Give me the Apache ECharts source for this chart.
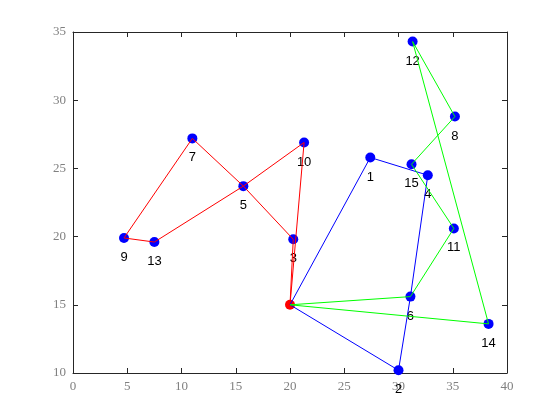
<!DOCTYPE html>
<html>
<head>
<meta charset="utf-8">
<script src="https://cdn.jsdelivr.net/npm/echarts@6/dist/echarts.min.js"></script>
<style>
  html, body { margin: 0; padding: 0; background: #fff; }
  #chart { width: 560px; height: 420px; }
</style>
</head>
<body>
<div id="chart"></div>
<script>
// node 0 is the depot, 1..15 are customers
const nodeX = [20.0, 27.4, 30.0, 20.3, 32.7, 15.7, 31.1, 11.0, 35.2, 4.7, 21.3, 35.1, 31.3, 7.5, 38.3, 31.2];
const nodeY = [15.0, 25.8, 10.2, 19.8, 24.5, 23.7, 15.6, 27.2, 28.8, 19.9, 26.9, 20.6, 34.3, 19.6, 13.6, 25.3];

// routes as node index sequences
const routeRed = [0, 3, 5, 7, 9, 13, 5, 10, 0];
const routeBlue = [0, 1, 4, 6, 2, 0];
const routeGreen = [0, 6, 11, 15, 8, 12, 14, 0];

const xTicks = { min: 0, max: 40, step: 5 };
const yTicks = { min: 10, max: 35, step: 5 };

const toPts = (route) => route.map((i) => [nodeX[i], nodeY[i]]);

const customers = nodeX.slice(1).map((x, k) => ({
  value: [x, nodeY[k + 1]],
  name: String(k + 1),
}));

const chart = echarts.init(document.getElementById("chart"));

const tickLabel = {
  color: "#808080",
  fontFamily: "Liberation Serif",
  fontSize: 13,
  margin: 7,
};

const baseAxis = {
  type: "value",
  axisLine: { show: true, onZero: false, lineStyle: { color: "#262626", width: 1 } },
  axisTick: { show: true, inside: true, length: 5, lineStyle: { color: "#262626" } },
  splitLine: { show: false },
};

const routeLine = (pts, color) => ({
  type: "line",
  data: pts,
  symbol: "none",
  lineStyle: { color: color, width: 1 },
  z: 5,
  animation: false,
});

chart.setOption({
  animation: false,
  backgroundColor: "#fff",
  grid: { left: 73, right: 53, top: 32, bottom: 47 },
  xAxis: [
    {
      ...baseAxis,
      position: "bottom",
      min: xTicks.min,
      max: xTicks.max,
      interval: xTicks.step,
      axisLabel: tickLabel,
    },
    {
      ...baseAxis,
      position: "top",
      min: xTicks.min,
      max: xTicks.max,
      interval: xTicks.step,
      axisLabel: { show: false },
    },
  ],
  yAxis: [
    {
      ...baseAxis,
      position: "left",
      min: yTicks.min,
      max: yTicks.max,
      interval: yTicks.step,
      axisLabel: tickLabel,
    },
    {
      ...baseAxis,
      position: "right",
      min: yTicks.min,
      max: yTicks.max,
      interval: yTicks.step,
      axisLabel: { show: false },
    },
  ],
  series: [
    {
      type: "scatter",
      data: customers,
      symbol: "circle",
      symbolSize: 10,
      itemStyle: { color: "#0000ff", opacity: 1 },
      label: {
        show: true,
        position: "bottom",
        distance: 8,
        formatter: (p) => p.name,
        color: "#000",
        fontFamily: "Liberation Sans",
        fontSize: 13,
      },
      z: 2,
    },
    {
      type: "scatter",
      data: [[nodeX[0], nodeY[0]]],
      symbol: "circle",
      symbolSize: 10,
      itemStyle: { color: "#ff0000", opacity: 1 },
      z: 3,
    },
    routeLine(toPts(routeRed), "#ff0000"),
    routeLine(toPts(routeBlue), "#0000ff"),
    routeLine(toPts(routeGreen), "#00ff00"),
  ],
});
</script>
</body>
</html>
